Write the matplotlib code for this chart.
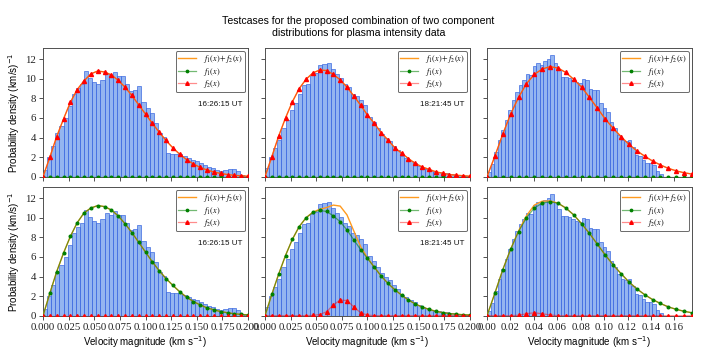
import matplotlib

matplotlib.use("Agg")
import matplotlib.pyplot as plt
import numpy as np
from matplotlib.font_manager import FontProperties

TITLE = "Testcases for the proposed combination of two component\ndistributions for plasma intensity data"
TIMESTAMPS = ["16:26:15 UT", "18:21:45 UT", None]
XLABEL = "Velocity magnitude (km s$^{-1}$)"
YLABEL = "Probability density (km/s)$^{-1}$"

# histogram heights (50 bins per column), same data in both rows
HIST_A = [0.7, 2.0, 3.1, 4.5, 5.2, 6.0, 7.2, 8.4, 9.1, 9.5,
          10.8, 10.1, 9.7, 9.5, 9.9, 10.5, 10.3, 10.7, 10.3, 10.3,
          9.5, 8.8, 8.9, 9.3, 7.6, 7.0, 6.5, 5.5, 4.5, 4.1,
          2.4, 2.3, 2.3, 2.3, 2.1, 1.9, 1.7, 1.6, 1.4, 1.2,
          1.0, 0.9, 0.7, 0.6, 0.7, 0.8, 0.8, 0.6, 0.2, 0.1]
HIST_B = [0.9, 2.0, 2.9, 3.75, 5.0, 5.8, 6.8, 7.5, 8.5, 9.4,
          9.5, 10.4, 10.6, 11.4, 11.5, 11.65, 11.0, 10.5, 10.05, 9.5,
          9.2, 8.5, 8.2, 7.8, 7.3, 6.1, 5.6, 5.0, 4.4, 4.0,
          3.6, 3.1, 2.7, 2.1, 1.9, 1.6, 1.35, 1.1, 0.85, 0.75,
          0.6, 0.5, 0.45, 0.4, 0.35, 0.3, 0.2, 0.15, 0.1, 0.05]
HIST_C = [0.5, 1.3, 2.5, 3.7, 4.8, 5.8, 6.8, 7.8, 8.7, 9.4,
          9.9, 10.45, 10.4, 11.3, 11.6, 11.4, 11.8, 12.0, 12.45, 11.6,
          10.9, 10.2, 10.2, 10.05, 9.9, 9.7, 9.55, 9.95, 9.9, 9.0,
          8.9, 8.85, 7.5, 7.0, 6.65, 5.6, 4.95, 4.25, 3.75, 3.6,
          3.75, 3.05, 2.2, 2.1, 1.7, 1.45, 1.45, 1.2, 0.6, 0.25]
HIST_SPAN = [0.2, 0.2, 0.15]

# fitted components sampled on an even grid up to X_MAX
X_MAX = [0.2, 0.2, 0.175]
N_CURVE = [31, 31, 27]

# top row: the whole fit sits in f2
TOP_F2_A = [0, 2.0, 4.1, 5.9, 7.6, 8.9, 9.8, 10.5, 10.8, 10.7,
            10.4, 9.85, 9.15, 8.3, 7.35, 6.4, 5.45, 4.55, 3.7, 2.95,
            2.3, 1.75, 1.3, 0.95, 0.68, 0.48, 0.33, 0.22, 0.14, 0.09, 0.05]
TOP_F2_B = [0, 2.05, 4.15, 6.0, 7.65, 9.0, 9.95, 10.6, 10.9, 10.85,
            10.45, 9.9, 9.15, 8.25, 7.3, 6.3, 5.45, 4.5, 3.75, 2.95,
            2.4, 1.85, 1.35, 1.0, 0.75, 0.5, 0.35, 0.22, 0.15, 0.1, 0.05]
TOP_F2_C = [0, 2.1, 4.35, 6.4, 8.1, 9.5, 10.45, 11.0, 11.25, 11.1,
            10.65, 9.95, 9.15, 8.1, 7.0, 5.9, 4.95, 4.1, 3.3, 2.65,
            2.1, 1.6, 1.2, 0.85, 0.6, 0.4, 0.27]

# bottom row: the fit sits in f1, with a small second component
BOT_F1_A = [0, 2.3, 4.5, 6.4, 8.1, 9.5, 10.5, 11.0, 11.25, 11.15,
            10.8, 10.2, 9.4, 8.5, 7.5, 6.5, 5.5, 4.6, 3.8, 3.1,
            2.45, 1.9, 1.45, 1.1, 0.8, 0.6, 0.42, 0.3, 0.2, 0.13, 0.08]
BOT_F1_B = [0, 2.2, 4.25, 6.15, 7.8, 9.1, 10.0, 10.55, 10.75, 10.65,
            10.2, 9.6, 8.75, 7.75, 6.75, 5.85, 4.95, 4.05, 3.3, 2.65,
            2.1, 1.6, 1.2, 0.88, 0.65, 0.45, 0.32, 0.22, 0.15, 0.1, 0.07]
BOT_F1_C = [0, 2.3, 4.7, 6.8, 8.6, 10.0, 11.0, 11.5, 11.65, 11.5,
            11.0, 10.3, 9.4, 8.4, 7.3, 6.2, 5.2, 4.3, 3.45, 2.75,
            2.15, 1.65, 1.25, 0.9, 0.65, 0.45, 0.3]
BOT_F2_B = [0, 0, 0, 0, 0, 0, 0, 0.03, 0.12, 0.4,
            1.1, 1.6, 1.55, 0.9, 0.3, 0.06, 0.01, 0, 0, 0,
            0, 0, 0, 0, 0, 0, 0, 0, 0, 0, 0]
BOT_F2_C = [0, 0, 0, 0, 0.05, 0.2, 0.3, 0.2, 0.08, 0,
            0, 0, 0, 0, 0, 0, 0, 0, 0, 0,
            0, 0, 0, 0, 0, 0, 0]

HISTS = [HIST_A, HIST_B, HIST_C]
F1 = [[[0.0] * 31, [0.0] * 31, [0.0] * 27], [BOT_F1_A, BOT_F1_B, BOT_F1_C]]
F2 = [[TOP_F2_A, TOP_F2_B, TOP_F2_C], [[0.0] * 31, BOT_F2_B, BOT_F2_C]]

SANS = "Liberation Sans"
SERIF = "Liberation Serif"
FRAME = "#505050"


def draw_panel(ax, col, f1, f2):
    heights = np.asarray(HISTS[col])
    edges = np.linspace(0.0, HIST_SPAN[col], len(heights) + 1)
    ax.bar(edges[:-1], heights, width=np.diff(edges), align="edge",
           facecolor=(0.42, 0.60, 0.92, 0.72), edgecolor=(0.22, 0.40, 0.88, 0.8),
           linewidth=0.6, zorder=1)

    x = np.linspace(0.0, X_MAX[col], N_CURVE[col])
    f1 = np.asarray(f1, dtype=float)
    f2 = np.asarray(f2, dtype=float)
    ax.plot(x, f1 + f2, color="#ff9a1f", lw=1.0, label="$f_1(x) + f_2(x)$", zorder=3)
    ax.plot(x, f1, color=(0.0, 0.5, 0.0, 0.55), lw=0.9, marker="o", ms=1.9,
            mfc="green", mec="green", label="$f_1(x)$", zorder=4)
    ax.plot(x, f2, color=(1.0, 0.0, 0.0, 0.45), lw=0.9, marker="^", ms=2.9,
            mfc="red", mec="red", label="$f_2(x)$", zorder=5)

    ax.set_xlim(0.0, X_MAX[col])
    ax.set_ylim(0.0, 13.15)
    ax.set_yticks(range(0, 13, 2))
    if col == 2:
        ax.set_xticks(np.arange(0.0, 0.161, 0.02))
    else:
        ax.set_xticks(np.arange(0.0, 0.2001, 0.025))

    for spine in ax.spines.values():
        spine.set_color(FRAME)
        spine.set_linewidth(0.7)
    ax.tick_params(colors=FRAME, labelcolor="#222222", length=3, width=0.7,
                   labelsize=7.8, pad=2)
    for lab in ax.get_xticklabels() + ax.get_yticklabels():
        lab.set_fontfamily(SERIF)

    leg = ax.legend(loc="upper right", labelspacing=0.08, handlelength=2.2,
                    borderpad=0.25, handletextpad=0.9, borderaxespad=0.35,
                    fancybox=True, markerscale=0.9,
                    prop=FontProperties(family=SERIF, size=5.9, math_fontfamily="stix"))
    leg.get_frame().set_edgecolor("#444444")
    leg.get_frame().set_linewidth(0.7)

    if TIMESTAMPS[col]:
        ax.text(0.755, 0.56, TIMESTAMPS[col], transform=ax.transAxes,
                fontsize=5.8, family=SANS, color="#111111", va="center")


fig, axes = plt.subplots(2, 3, figsize=(7.1, 3.55), dpi=100)
fig.subplots_adjust(left=0.0606, right=0.9746, bottom=0.1107, top=0.8648,
                    wspace=0.083, hspace=0.08)

for row in range(2):
    for col in range(3):
        ax = axes[row, col]
        draw_panel(ax, col, F1[row][col], F2[row][col])
        if row == 0:
            ax.tick_params(labelbottom=False)
        else:
            ax.set_xlabel(XLABEL, family=SANS, fontsize=7.0, labelpad=2)
        if col == 0:
            ax.set_ylabel(YLABEL, family=SANS, fontsize=7.0, labelpad=2)
        else:
            ax.tick_params(labelleft=False)

fig.suptitle(TITLE, x=0.505, y=0.955, fontsize=7.6, family=SANS, linespacing=1.25)

fig.savefig("out.png", dpi=100)
plt.close(fig)
